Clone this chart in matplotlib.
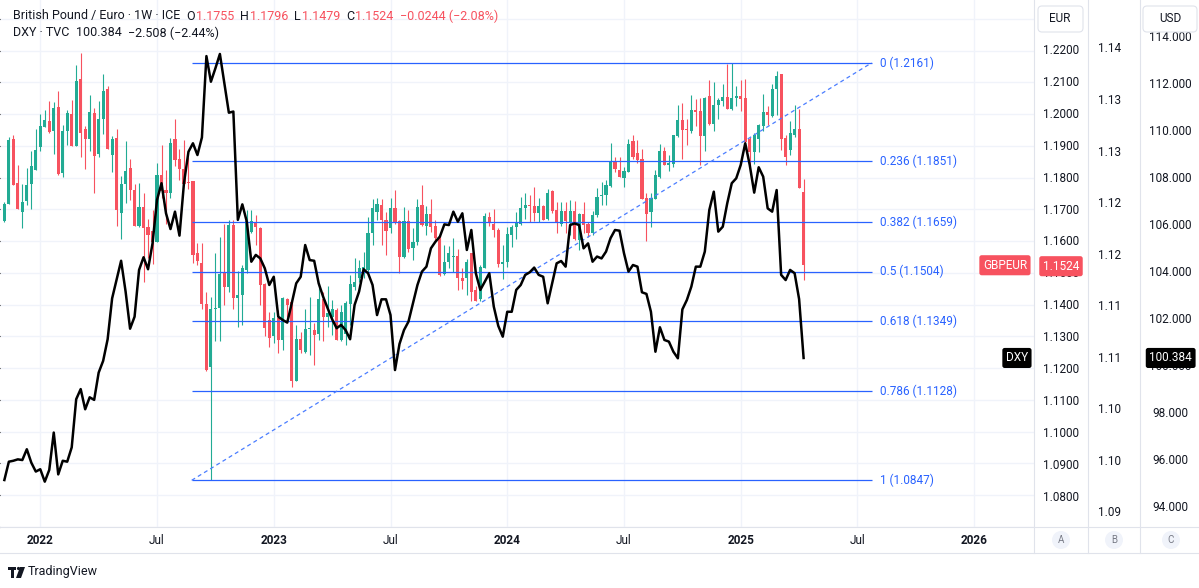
import matplotlib
matplotlib.use("Agg")
from matplotlib import pyplot as plt
from matplotlib import dates as mdates
from matplotlib.patches import FancyBboxPatch, Circle, Rectangle, Polygon
from matplotlib.lines import Line2D
from matplotlib.transforms import IdentityTransform, blended_transform_factory
import numpy as np
import pandas as pd

plt.rcParams['font.family'] = ['Roboto', 'DejaVu Sans']

# weekly bars, first bar = week of 2021-11-08
first_week = "2021-11-08"

opens = [
    1.1663, 1.1718, 1.1923, 1.1784, 1.1692, 1.1726, 1.1779, 1.1823, 1.1895, 1.1959,
    1.1978, 1.1946, 1.2023, 1.1814, 1.1946, 1.2001, 1.1898, 1.2111, 1.1952, 1.1920,
    1.2004, 1.1875, 1.1983, 1.2080, 1.1872, 1.1925, 1.1688, 1.1779, 1.1830, 1.1762,
    1.1647, 1.1708, 1.1645, 1.1631, 1.1598, 1.1809, 1.1762, 1.1753, 1.1923, 1.1858,
    1.1826, 1.1786, 1.1788, 1.1561, 1.1530, 1.1402, 1.1205, 1.1386, 1.1388, 1.1499,
    1.1457, 1.1652, 1.1420, 1.1430, 1.1509, 1.1629, 1.1661, 1.1640, 1.1464, 1.1352,
    1.1300, 1.1359, 1.1289, 1.1418, 1.1408, 1.1160, 1.1291, 1.1252, 1.1323, 1.1319,
    1.1308, 1.1417, 1.1362, 1.1362, 1.1383, 1.1289, 1.1307, 1.1401, 1.1457, 1.1483,
    1.1512, 1.1509, 1.1624, 1.1692, 1.1715, 1.1666, 1.1642, 1.1703, 1.1663, 1.1551,
    1.1663, 1.1577, 1.1596, 1.1715, 1.1648, 1.1684, 1.1648, 1.1614, 1.1495, 1.1535,
    1.1551, 1.1554, 1.1485, 1.1485, 1.1561, 1.1446, 1.1418, 1.1516, 1.1676, 1.1655,
    1.1634, 1.1527, 1.1533, 1.1619, 1.1645, 1.1655, 1.1703, 1.1713, 1.1710, 1.1687,
    1.1710, 1.1671, 1.1757, 1.1698, 1.1655, 1.1695, 1.1658, 1.1695, 1.1605, 1.1684,
    1.1655, 1.1624, 1.1682, 1.1742, 1.1746, 1.1774, 1.1851, 1.1825, 1.1798, 1.1818,
    1.1915, 1.1876, 1.1857, 1.1736, 1.1692, 1.1734, 1.1802, 1.1885, 1.1839, 1.1844,
    1.1931, 1.1980, 1.1952, 1.1946, 1.2012, 1.2009, 1.1931, 1.2057, 1.1970, 1.2029,
    1.2040, 1.2054, 1.2015, 1.2050, 1.2057, 1.2050, 1.1923, 1.1881, 1.1923, 1.1962,
    1.2006, 1.1994, 1.2078, 1.2125, 1.1926, 1.1886, 1.1933, 1.1954, 1.1755,
]
highs = [
    1.1724, 1.1928, 1.1935, 1.1841, 1.1781, 1.1830, 1.1885, 1.1952, 1.2001, 1.2014,
    1.2042, 1.2038, 1.2071, 1.1967, 1.2012, 1.2043, 1.2153, 1.2193, 1.1962, 1.2059,
    1.2020, 1.2040, 1.2125, 1.2087, 1.1930, 1.1954, 1.1805, 1.1916, 1.1860, 1.1781,
    1.1784, 1.1750, 1.1671, 1.1697, 1.1847, 1.1904, 1.1823, 1.1926, 1.1985, 1.1891,
    1.1917, 1.1865, 1.1788, 1.1593, 1.1593, 1.1441, 1.1425, 1.1561, 1.1614, 1.1655,
    1.1668, 1.1666, 1.1506, 1.1525, 1.1697, 1.1697, 1.1682, 1.1645, 1.1467, 1.1376,
    1.1378, 1.1383, 1.1425, 1.1422, 1.1410, 1.1336, 1.1315, 1.1386, 1.1425, 1.1341,
    1.1467, 1.1441, 1.1460, 1.1415, 1.1388, 1.1399, 1.1410, 1.1493, 1.1546, 1.1540,
    1.1567, 1.1676, 1.1734, 1.1737, 1.1734, 1.1692, 1.1737, 1.1760, 1.1666, 1.1708,
    1.1697, 1.1642, 1.1734, 1.1776, 1.1710, 1.1734, 1.1666, 1.1619, 1.1588, 1.1585,
    1.1609, 1.1575, 1.1514, 1.1543, 1.1561, 1.1460, 1.1525, 1.1687, 1.1692, 1.1700,
    1.1640, 1.1588, 1.1645, 1.1650, 1.1692, 1.1739, 1.1750, 1.1745, 1.1769, 1.1736,
    1.1713, 1.1763, 1.1760, 1.1724, 1.1724, 1.1724, 1.1729, 1.1726, 1.1687, 1.1724,
    1.1661, 1.1694, 1.1766, 1.1787, 1.1791, 1.1910, 1.1865, 1.1865, 1.1834, 1.1923,
    1.1933, 1.1917, 1.1891, 1.1750, 1.1750, 1.1823, 1.1907, 1.1897, 1.1872, 1.1935,
    1.2027, 1.2036, 1.1983, 1.2059, 1.2046, 1.2050, 1.2053, 1.2106, 1.2101, 1.2050,
    1.2095, 1.2158, 1.2161, 1.2089, 1.2106, 1.2111, 1.1928, 1.1939, 1.1970, 1.2064,
    1.2025, 1.2095, 1.2137, 1.2127, 1.1933, 1.1977, 1.2027, 1.2015, 1.1796,
]
lows = [
    1.1660, 1.1716, 1.1776, 1.1700, 1.1640, 1.1713, 1.1700, 1.1823, 1.1883, 1.1959,
    1.1941, 1.1875, 1.1809, 1.1801, 1.1902, 1.1898, 1.1898, 1.1864, 1.1826, 1.1885,
    1.1750, 1.1865, 1.1938, 1.1889, 1.1816, 1.1647, 1.1606, 1.1721, 1.1729, 1.1647,
    1.1643, 1.1472, 1.1546, 1.1528, 1.1598, 1.1736, 1.1655, 1.1736, 1.1837, 1.1792,
    1.1781, 1.1765, 1.1530, 1.1525, 1.1386, 1.1190, 1.0847, 1.1284, 1.1284, 1.1399,
    1.1441, 1.1386, 1.1331, 1.1336, 1.1499, 1.1624, 1.1588, 1.1399, 1.1300, 1.1268,
    1.1279, 1.1247, 1.1258, 1.1362, 1.1142, 1.1160, 1.1247, 1.1247, 1.1242, 1.1211,
    1.1289, 1.1284, 1.1331, 1.1305, 1.1289, 1.1284, 1.1273, 1.1336, 1.1446, 1.1472,
    1.1483, 1.1504, 1.1588, 1.1666, 1.1588, 1.1556, 1.1624, 1.1655, 1.1499, 1.1546,
    1.1567, 1.1540, 1.1588, 1.1648, 1.1619, 1.1630, 1.1598, 1.1491, 1.1493, 1.1514,
    1.1504, 1.1446, 1.1449, 1.1430, 1.1412, 1.1410, 1.1412, 1.1514, 1.1648, 1.1614,
    1.1520, 1.1481, 1.1520, 1.1582, 1.1606, 1.1652, 1.1671, 1.1661, 1.1663, 1.1661,
    1.1666, 1.1666, 1.1690, 1.1627, 1.1648, 1.1624, 1.1619, 1.1603, 1.1572, 1.1624,
    1.1614, 1.1619, 1.1677, 1.1713, 1.1713, 1.1771, 1.1818, 1.1802, 1.1771, 1.1816,
    1.1858, 1.1847, 1.1734, 1.1600, 1.1643, 1.1732, 1.1799, 1.1839, 1.1820, 1.1834,
    1.1928, 1.1860, 1.1904, 1.1941, 1.1962, 1.1839, 1.1884, 1.1967, 1.1946, 1.1985,
    1.2025, 1.2015, 1.2012, 1.2026, 1.2011, 1.1902, 1.1839, 1.1844, 1.1881, 1.1946,
    1.1964, 1.1991, 1.1996, 1.1886, 1.1839, 1.1870, 1.1928, 1.1768, 1.1479,
]
closes = [
    1.1718, 1.1919, 1.1778, 1.1700, 1.1724, 1.1778, 1.1838, 1.1888, 1.1962, 1.1982,
    1.1943, 1.2020, 1.1812, 1.1948, 1.2004, 1.1898, 1.2105, 1.1941, 1.1920, 1.2006,
    1.1867, 1.1985, 1.2072, 1.1889, 1.1923, 1.1697, 1.1781, 1.1822, 1.1760, 1.1647,
    1.1708, 1.1642, 1.1619, 1.1598, 1.1809, 1.1758, 1.1753, 1.1910, 1.1854, 1.1826,
    1.1781, 1.1783, 1.1556, 1.1537, 1.1402, 1.1195, 1.1386, 1.1388, 1.1495, 1.1457,
    1.1652, 1.1420, 1.1430, 1.1514, 1.1663, 1.1663, 1.1645, 1.1462, 1.1326, 1.1294,
    1.1357, 1.1289, 1.1420, 1.1399, 1.1160, 1.1291, 1.1258, 1.1323, 1.1326, 1.1305,
    1.1417, 1.1362, 1.1375, 1.1385, 1.1289, 1.1378, 1.1404, 1.1464, 1.1470, 1.1514,
    1.1517, 1.1624, 1.1703, 1.1718, 1.1666, 1.1632, 1.1703, 1.1661, 1.1551, 1.1663,
    1.1575, 1.1596, 1.1708, 1.1650, 1.1684, 1.1645, 1.1609, 1.1493, 1.1535, 1.1561,
    1.1554, 1.1483, 1.1475, 1.1533, 1.1441, 1.1412, 1.1520, 1.1680, 1.1659, 1.1634,
    1.1527, 1.1533, 1.1621, 1.1645, 1.1661, 1.1703, 1.1713, 1.1710, 1.1687, 1.1710,
    1.1668, 1.1753, 1.1694, 1.1658, 1.1695, 1.1663, 1.1695, 1.1606, 1.1684, 1.1652,
    1.1624, 1.1682, 1.1739, 1.1745, 1.1778, 1.1851, 1.1826, 1.1802, 1.1822, 1.1907,
    1.1865, 1.1855, 1.1734, 1.1685, 1.1736, 1.1807, 1.1885, 1.1841, 1.1847, 1.1933,
    1.1980, 1.1949, 1.1949, 1.2012, 1.2006, 1.1931, 1.2050, 1.1970, 1.2029, 1.2043,
    1.2054, 1.2015, 1.2050, 1.2057, 1.2046, 1.1912, 1.1881, 1.1933, 1.1965, 1.2006,
    1.1996, 1.2080, 1.2119, 1.1923, 1.1865, 1.1940, 1.1954, 1.1768, 1.1524,
]
dxy = [
    95.19, 95.97, 96.01, 96.07, 96.04, 96.50, 95.93, 95.55, 95.65, 95.12,
    95.62, 97.21, 95.43, 96.01, 95.97, 96.58, 98.63, 99.06, 98.20, 98.71,
    98.60, 99.76, 100.26, 101.18, 102.92, 103.73, 104.52, 103.21, 101.63, 102.14,
    104.13, 104.67, 104.16, 105.26, 107.11, 107.82, 106.54, 105.87, 106.61, 105.59,
    107.82, 109.16, 109.52, 109.02, 109.77, 113.23, 112.14, 112.71, 113.32, 112.07,
    110.82, 110.87, 106.26, 106.92, 106.18, 104.48, 104.77, 104.62, 104.20, 103.49,
    103.84, 102.14, 102.00, 101.89, 102.71, 103.56, 103.84, 105.19, 104.55, 104.52,
    103.56, 102.99, 102.50, 102.03, 101.65, 101.79, 101.57, 101.18, 102.64, 103.21,
    104.16, 103.99, 103.49, 102.21, 102.88, 102.88, 102.21, 99.87, 100.98, 101.57,
    101.93, 102.71, 103.49, 104.06, 104.27, 105.05, 105.33, 105.55, 106.07, 106.04,
    106.61, 106.18, 106.54, 104.98, 105.83, 103.99, 103.28, 103.63, 103.99, 102.57,
    101.75, 101.29, 102.35, 102.35, 103.28, 103.49, 103.92, 104.03, 104.23, 103.92,
    103.84, 102.71, 103.56, 104.41, 104.51, 104.27, 106.04, 106.11, 106.04, 105.05,
    105.26, 104.48, 104.70, 104.62, 104.91, 105.48, 105.83, 105.80, 104.84, 104.06,
    104.34, 104.27, 103.18, 103.11, 102.35, 100.65, 101.69, 101.15, 101.08, 100.65,
    100.37, 102.45, 102.85, 103.42, 104.27, 104.27, 104.91, 106.68, 107.46, 105.76,
    105.97, 106.97, 107.82, 108.03, 108.60, 109.52, 108.60, 107.42, 108.50, 108.10,
    106.75, 106.61, 107.53, 103.92, 103.70, 104.13, 103.99, 102.89, 100.384,
]

# fibonacci retracement drawn from the Sep 2022 low to the Dec 2024 high
fib_levels = [0, 0.236, 0.382, 0.5, 0.618, 0.786, 1]
fib_prices = [1.2161, 1.1851, 1.1659, 1.1504, 1.1349, 1.1128, 1.0847]
fib_start = "2022-08-27"
fib_end = "2025-07-22"

tick_dates = ["2022-01-03", "2022-07-04", "2023-01-02", "2023-07-03", "2024-01-01",
              "2024-07-01", "2024-12-30", "2025-06-30", "2025-12-29"]
tick_labels = ["2022", "Jul", "2023", "Jul", "2024", "Jul", "2025", "Jul", "2026"]

eur_ticks = [1.08, 1.09, 1.10, 1.11, 1.12, 1.13, 1.14, 1.15, 1.16, 1.17, 1.18, 1.19, 1.20, 1.21, 1.22]
mid_ticks = [1.14, 1.135, 1.13, 1.125, 1.12, 1.115, 1.11, 1.105, 1.10, 1.095]
mid_labels = ["1.14", "1.13", "1.13", "1.12", "1.12", "1.11", "1.11", "1.10", "1.10", "1.09"]
usd_ticks = [94, 96, 98, 100, 102, 104, 106, 108, 110, 112, 114]

W, H = 1199, 588
GREEN = "#22ab94"
RED = "#f7525f"
FIB = "#2962ff"
TXT = "#131722"
GRID = "#f0f3fa"
BORDER = "#e0e3eb"

price_lim = (1.0706, 1.2359)
dxy_lim = (93.191, 115.617)
mid_lim = (1.09364, 1.14475)


def fy(py):
    return 1 - py / H


dates = pd.date_range(first_week, periods=len(closes), freq="W-MON")
x = mdates.date2num(dates)
o = np.array(opens)
h = np.array(highs)
l = np.array(lows)
c = np.array(closes)

fig = plt.figure(figsize=(W / 100, H / 100), dpi=100)
fig.patch.set_facecolor("white")

ax = fig.add_axes([0, fy(527), 1034 / W, 527 / H])
anchor = mdates.date2num(pd.Timestamp("2022-01-03"))
ax.set_xlim(anchor - 62.8, anchor + 1549.2)
ax.set_ylim(*price_lim)
for s in ax.spines.values():
    s.set_visible(False)
ax.set_yticks(np.arange(1.07, 1.2351, 0.01))
ax.set_xticks(mdates.date2num(pd.to_datetime(tick_dates)))
ax.set_xticklabels(tick_labels)
ax.tick_params(axis="y", left=False, labelleft=False)
ax.tick_params(axis="x", length=0, pad=5, labelsize=8.5, labelcolor=TXT)
for lbl in ax.get_xticklabels():
    if lbl.get_text() != "Jul":
        lbl.set_fontweight("bold")
ax.grid(color=GRID, lw=1)
ax.set_axisbelow(True)

cols = np.where(c >= o, GREEN, RED)
ax.vlines(x, l, h, colors=cols, lw=0.8, zorder=3)
body_lo = np.minimum(o, c)
body_h = np.maximum(np.abs(c - o), 0.00028)
ax.bar(x, body_h, bottom=body_lo, width=4.9, color=cols, lw=0, zorder=4)

# fibonacci
fs = mdates.date2num(pd.Timestamp(fib_start))
fe = mdates.date2num(pd.Timestamp(fib_end))
ax.hlines(fib_prices, fs, fe, colors=FIB, lw=0.9, zorder=5)
ax.plot([fs, fe], [fib_prices[-1], fib_prices[0]], color="#4a7dff", lw=0.9,
        dashes=(3.2, 2.6), zorder=5)
for lv, pr in zip(fib_levels, fib_prices):
    ax.annotate(f"{lv:g} ({pr:.4f})", xy=(fe, pr), xytext=(6, 0), textcoords="offset points",
                color=FIB, fontsize=8.5, va="center", ha="left", zorder=6)

# DXY overlay
ax2 = ax.twinx()
ax2.set_ylim(*dxy_lim)
ax2.plot(x, dxy, color="black", lw=1.8, zorder=6)
ax2.set_axis_off()

bl = blended_transform_factory(ax.transAxes, ax.transData)
ax.text(1027 / 1034, closes[-1], "GBPEUR", transform=bl, ha="right", va="center",
        color="white", fontsize=8.5, zorder=8,
        bbox=dict(boxstyle="round,pad=0.3,rounding_size=0.2", fc=RED, ec="none"))
bl2 = blended_transform_factory(ax2.transAxes, ax2.transData)
ax2.text(1028 / 1034, dxy[-1], "DXY", transform=bl2, ha="right", va="center",
         color="white", fontsize=8.5, zorder=8,
         bbox=dict(boxstyle="round,pad=0.3,rounding_size=0.2", fc="black", ec="none"))

# price scales
axA = fig.add_axes([1034 / W, fy(527), 54 / W, 527 / H])
axA.set_ylim(*price_lim)
axA.set_xlim(0, 1)
axA.axis("off")
for t in eur_ticks:
    axA.text(0.5, t, f"{t:.4f}", ha="center", va="center", fontsize=8.5, color=TXT)
axA.text(0.5, closes[-1], f"{closes[-1]:.4f}", ha="center", va="center", fontsize=8.5,
         color="white", zorder=8,
         bbox=dict(boxstyle="round,pad=0.3,rounding_size=0.2", fc=RED, ec="none"))

axB = fig.add_axes([1088 / W, fy(527), 52 / W, 527 / H])
axB.set_ylim(*mid_lim)
axB.set_xlim(0, 1)
axB.axis("off")
for t, s in zip(mid_ticks, mid_labels):
    axB.text(0.41, t, s, ha="center", va="center", fontsize=8.5, color=TXT)

axC = fig.add_axes([1140 / W, fy(527), 59 / W, 527 / H])
axC.set_ylim(*dxy_lim)
axC.set_xlim(0, 1)
axC.axis("off")
for t in usd_ticks:
    axC.text(0.52, t, f"{t:.3f}", ha="center", va="center", fontsize=8.5, color=TXT)
axC.text(0.52, dxy[-1], f"{dxy[-1]:.3f}", ha="center", va="center", fontsize=8.5,
         color="white", zorder=8,
         bbox=dict(boxstyle="round,pad=0.3,rounding_size=0.2", fc="black", ec="none"))


# frame, unit boxes and footer, in pixels
def px_line(x0, y0, x1, y1):
    fig.add_artist(Line2D([x0, x1], [H - y0, H - y1], color=BORDER, lw=0.8,
                          transform=IdentityTransform(), zorder=4))


def px_box(x0, y0, x1, y1, fc, ec, r=4):
    fig.add_artist(FancyBboxPatch((x0, H - y1), x1 - x0, y1 - y0,
                                  boxstyle=f"round,pad=0,rounding_size={r}",
                                  fc=fc, ec=ec, lw=0.8, transform=IdentityTransform(), zorder=5))


px_line(1034, 0, 1034, 553)
px_line(1088, 0, 1088, 553)
px_line(1140, 0, 1140, 553)
px_line(0, 527, W, 527)
px_line(0, 553, W, 553)

px_box(1038, 6, 1083, 32, "white", BORDER)
px_box(1143, 6, 1197, 32, "white", BORDER)
fig.text(1060 / W, fy(19), "EUR", ha="center", va="center", fontsize=8.5, color=TXT, zorder=6)
fig.text(1170 / W, fy(19), "USD", ha="center", va="center", fontsize=8.5, color=TXT, zorder=6)

for cx, s in [(1061, "A"), (1114, "B"), (1171, "C")]:
    fig.add_artist(Circle((cx, H - 540), 9, fc="#f0f3fa", ec="none",
                          transform=IdentityTransform(), zorder=5))
    fig.text(cx / W, fy(540), s, ha="center", va="center", fontsize=7, color="#787b86", zorder=6)

# TradingView mark
for patch in [Rectangle((8, H - 570), 8, 3), Rectangle((11, H - 578), 3, 10),
              Polygon([(20, H - 567), (25, H - 567), (21, H - 578), (16, H - 578)])]:
    patch.set_transform(IdentityTransform())
    patch.set_facecolor(TXT)
    patch.set_edgecolor("none")
    patch.set_zorder(5)
    fig.add_artist(patch)
fig.add_artist(Circle((18.5, H - 568.5), 1.6, fc=TXT, ec="none",
                      transform=IdentityTransform(), zorder=5))
fig.text(28 / W, fy(572), "TradingView", ha="left", va="center", fontsize=9, color=TXT)

# header legend
renderer = fig.canvas.get_renderer()


def legend_line(pieces, y):
    xp = 13
    for txt, col, gap in pieces:
        xp += gap
        t = fig.text(xp / W, fy(y), txt, color=col, fontsize=9, ha="left", va="center", zorder=7)
        xp = t.get_window_extent(renderer=renderer).x1


legend_line([("British Pound / Euro · 1W · ICE", TXT, 0),
             ("O", TXT, 6), (f"{opens[-1]:.4f}", RED, 1),
             ("H", TXT, 6), (f"{highs[-1]:.4f}", RED, 1),
             ("L", TXT, 6), (f"{lows[-1]:.4f}", RED, 1),
             ("C", TXT, 6), (f"{closes[-1]:.4f}", RED, 1),
             ("\u22120.0244 (\u22122.08%)", RED, 6)], 16)
legend_line([("DXY · TVC", TXT, 0), (f"{dxy[-1]:.3f}", TXT, 7),
             ("\u22122.508 (\u22122.44%)", TXT, 6)], 33)

fig.savefig("out.png", dpi=100)
